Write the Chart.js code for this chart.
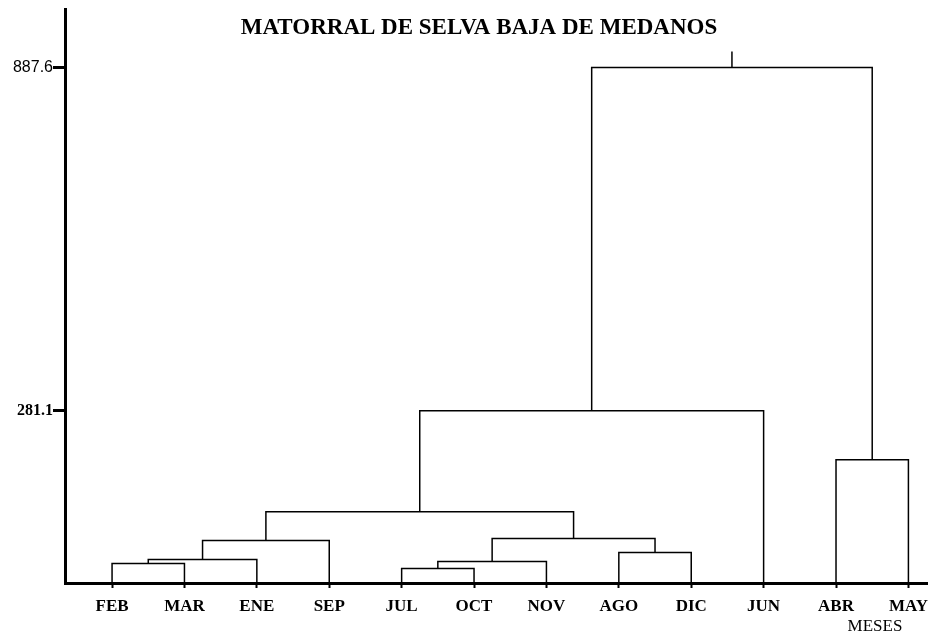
<!DOCTYPE html>
<html>
<head>
<meta charset="utf-8">
<script src="https://cdn.jsdelivr.net/npm/chart.js@4"></script>
<style>
  html, body { margin: 0; padding: 0; background: #fff; }
  #wrap { width: 936px; height: 638px; }
</style>
</head>
<body>
<div id="wrap"><canvas id="dendro"></canvas></div>
<script>
//----- Data -----//

var months = ['FEB', 'MAR', 'ENE', 'SEP', 'JUL', 'OCT', 'NOV', 'AGO', 'DIC', 'JUN', 'ABR', 'MAY']

// merges: node 12 is the first merge, 13 the second, ...
var mergeLeft   = [0, 12, 13, 4, 15, 7, 16, 14, 19, 10, 20]
var mergeRight  = [1, 2, 3, 5, 6, 8, 17, 18, 9, 11, 21]
var mergeHeight = [11.3, 18.3, 51.9, 2.5, 14.8, 30.7, 55.4, 103, 281.1, 194.7, 887.6]

var yTickValues = [281.1, 887.6]
var axisBottom = -23
var rootTop = 916

//----- Build the tree -----//

var nodeX = months.map((m, i) => i)
var nodeH = months.map(() => axisBottom)
var datasets = []

mergeHeight.forEach((h, k) => {
    var a = mergeLeft[k]
    var b = mergeRight[k]
    datasets.push({
        data: [
            { x: nodeX[a], y: nodeH[a] },
            { x: nodeX[a], y: h },
            { x: nodeX[b], y: h },
            { x: nodeX[b], y: nodeH[b] }
        ]
    })
    nodeX.push((nodeX[a] + nodeX[b]) / 2)
    nodeH.push(h)
})

var root = nodeX.length - 1
datasets.push({ data: [{ x: nodeX[root], y: nodeH[root] }, { x: nodeX[root], y: rootTop }] })

datasets.forEach((d) => {
    d.borderColor = '#000'
    d.borderWidth = 1.5
    d.pointRadius = 0
    d.showLine = true
    d.tension = 0
})

//----- Text plugin -----//

const textPlugin = {
    id: 'textPlugin',
    afterDraw(chart) {
        var ctx = chart.ctx
        ctx.save()
        ctx.fillStyle = '#000'
        ctx.textAlign = 'center'
        ctx.textBaseline = 'middle'
        ctx.font = 'bold 23px "Liberation Serif", serif'
        ctx.fillText('MATORRAL DE SELVA BAJA DE MEDANOS', 479, 28)
        ctx.font = '17px "Liberation Serif", serif'
        ctx.fillText('MESES', 875, 627)
        ctx.restore()
    }
}

//----- Create Chart -----//

const myChart = new Chart(document.getElementById('dendro'), {
    type: 'scatter',
    data: { datasets: datasets },
    plugins: [textPlugin],
    options: {
        responsive: true,
        maintainAspectRatio: false,
        animation: false,
        layout: { padding: { top: 4, right: 3, left: 0, bottom: 0 } },
        plugins: {
            legend: { display: false },
            tooltip: { enabled: false }
        },
        scales: {
            x: {
                type: 'linear',
                min: -0.65,
                max: 11.27,
                afterBuildTicks: (scale) => { scale.ticks = months.map((m, i) => ({ value: i })) },
                afterFit: (scale) => { scale.height = 55 },
                border: { display: true, color: '#000', width: 3 },
                grid: { drawOnChartArea: false, drawTicks: true, tickLength: 5, tickWidth: 2, tickColor: '#000' },
                ticks: {
                    autoSkip: false,
                    maxRotation: 0,
                    padding: 8,
                    color: '#000',
                    font: { family: '"Liberation Serif", serif', size: 17, weight: 'bold' },
                    callback: (v) => months[v]
                }
            },
            y: {
                type: 'linear',
                min: axisBottom,
                max: 990,
                afterBuildTicks: (scale) => { scale.ticks = yTickValues.map((v) => ({ value: v })) },
                afterFit: (scale) => { scale.width = 65 },
                border: { display: true, color: '#000', width: 3 },
                grid: { drawOnChartArea: false, drawTicks: true, tickLength: 12, tickWidth: 3, tickColor: '#000' },
                ticks: {
                    padding: 0,
                    color: '#000',
                    font: (c) => c.tick && c.tick.value === 281.1
                        ? { family: '"Liberation Serif", serif', size: 16, weight: 'bold' }
                        : { family: '"Liberation Sans", sans-serif', size: 16 },
                    callback: (v) => v.toFixed(1)
                }
            }
        }
    }
})
</script>
</body>
</html>
